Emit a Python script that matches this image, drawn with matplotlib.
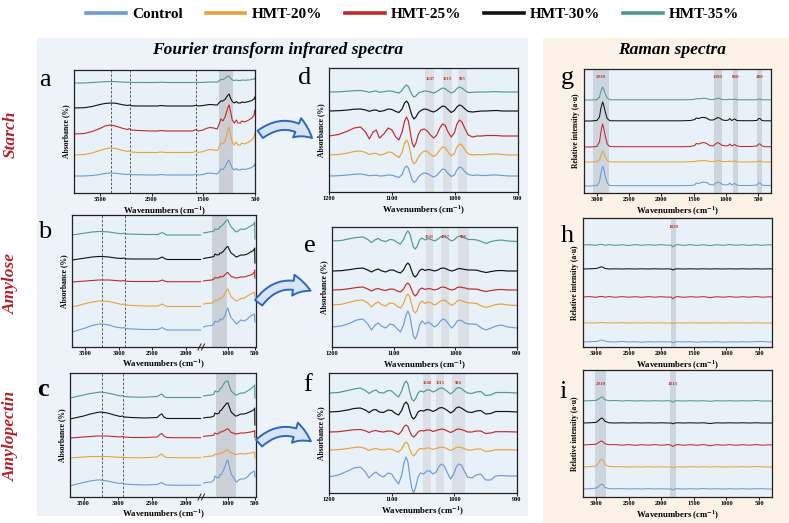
import matplotlib
matplotlib.use("Agg")
import matplotlib.pyplot as plt
from matplotlib.patches import Rectangle, FancyArrowPatch
from matplotlib.lines import Line2D

plt.rcParams['font.family'] = ['Liberation Serif', 'DejaVu Serif']
plt.rcParams['font.weight'] = 'bold'
plt.rcParams['mathtext.fontset'] = 'stix'
plt.rcParams['mathtext.default'] = 'bf'

W, H = 789, 523
SERIES = ["Control", "HMT-20%", "HMT-25%", "HMT-30%", "HMT-35%"]
COLORS = ["#6f9ad6", "#e9a33a", "#c22a2a", "#111111", "#4f9a8b"]

# ---------------- FTIR full range (panel a) ----------------
xa = [4000, 3800, 3650, 3500, 3400, 3300, 3200, 3050, 2960, 2930,
      2890, 2750, 2500, 2370, 2340, 2200, 1900, 1700, 1645, 1600,
      1500, 1450, 1370, 1300, 1230, 1200, 1160, 1120, 1080, 1050,
      1020, 1000, 975, 940, 900, 860, 830, 780, 760, 700,
      620, 560, 520, 505, 500]
a_control = [0, 0, 0.5, 1.5, 2.5, 3, 2.8, 1.8, 1.5, 2,
             1.3, 1.2, 1, 1, 1.5, 1, 1, 1, 1.8, 1,
             1.5, 2.5, 3, 2.5, 2, 4, 7, 6.5, 9, 12,
             15, 16, 12, 8, 6, 7.5, 6, 6, 7, 6.5,
             7.5, 8.5, 10, 12, 10]
a_hmt20 = [0, 0.5, 2, 4.5, 6, 7, 6.5, 4.5, 3.5, 4,
           3, 2.5, 2.5, 2.5, 3, 2.5, 2.5, 2.5, 3.8, 2.5,
           3.5, 4.5, 5.5, 5, 4.5, 7, 12, 11, 14, 19,
           26, 28, 21, 13, 10, 13, 10, 10, 12, 11,
           13, 15, 18, 22, 19]
a_hmt25 = [0, 0.5, 2.5, 5.5, 8, 9, 8, 5.5, 4.5, 5.5,
           4, 3.5, 3, 3, 3.5, 3, 3, 3, 4.5, 3,
           4, 5.5, 6.5, 6, 5, 9, 15, 13, 17, 22,
           27, 29, 23, 14, 11, 14, 11, 11, 13, 12,
           14, 16, 19, 24, 20]
a_hmt30 = [0, 0.3, 1.5, 3.5, 4.5, 5, 4.8, 3.2, 2.5, 3,
           2.2, 2, 2, 2, 2.5, 2, 2, 2, 2.6, 2,
           2.5, 3, 3.5, 3.2, 3, 5, 7, 7, 8.5, 11,
           13, 14, 10, 6.5, 5, 6.5, 5, 5, 6, 5.5,
           6.5, 7.5, 9, 11, 9]
a_hmt35 = [0, 0, 0.5, 1, 1.3, 1.5, 1.4, 0.8, 0.7, 1,
           0.6, 0.5, 0.5, 0.5, 0.8, 0.5, 0.5, 0.5, 0.8, 0.5,
           0.6, 0.8, 1, 1, 0.8, 2, 3.5, 3.5, 4.5, 6,
           7, 6.5, 5, 3, 2.5, 3, 2.5, 2.5, 3, 2.8,
           3, 3.5, 4, 5, 4]

# ---------------- FTIR broken axis (panels b, c) ----------------
x_hi = [3700, 3600, 3500, 3400, 3300, 3250, 3150, 3050, 2960, 2930,
        2900, 2800, 2600, 2420, 2370, 2350, 2320, 2280, 2150, 1950, 1780]
x_lo = [1450, 1400, 1300, 1260, 1240, 1200, 1160, 1150, 1120, 1080,
        1050, 1020, 1000, 980, 940, 900, 860, 840, 800, 760,
        700, 640, 580, 540, 510, 505, 500]

b_hi_control = [0, 2, 4, 6.5, 8, 8, 7, 5, 4, 4.5, 3.5, 3, 2.5, 2.5, 4, 4.5, 3, 2, 2, 2, 2]
b_lo_control = [5, 6, 6.5, 8, 11, 10, 11, 13, 12, 14, 17, 22, 24, 20, 14, 12, 9, 8, 10, 12,
                11, 13, 16, 17, 18, 15, 10]
b_hi_hmt20 = [0, 1.5, 3.5, 5, 6, 6, 5.5, 4, 2.5, 3, 2, 1.5, 1, 1, 2.5, 3, 1.5, 0.5, 0.5, 0.5, 0.5]
b_lo_hmt20 = [3, 3.5, 4, 5, 7, 6.5, 7.5, 9, 9, 11, 14, 17, 18, 15, 10, 8.5, 6.5, 6, 7, 8.5,
              9, 11, 13, 14, 15, 14, 10]
b_hi_hmt25 = [0, 0.5, 1, 1.5, 2, 2, 2, 1.5, 1, 1.5, 0.8, 0.5, 0.5, 0.5, 1.5, 2, 1, 0.3, 0.3, 0.3, 0.3]
b_lo_hmt25 = [1, 1.5, 2, 3, 4.5, 4, 4.5, 5.5, 5, 6, 7.5, 9, 9.5, 8, 5.5, 5, 4, 4, 4.5, 5,
              5, 6, 7, 8, 10, 12, 4]
b_hi_hmt30 = [0, 1, 2, 3, 3.5, 3.5, 3, 2, 1.5, 2, 1.2, 1, 1, 1, 2.5, 3, 1.5, 0.5, 0.5, 0.5, 0.5]
b_lo_hmt30 = [1.5, 2, 3, 3.5, 6, 5, 5.5, 7, 7, 9, 11, 13, 13.5, 11, 7, 5.5, 3.5, 3, 4, 5,
              5, 6, 8, 9, 11, 12, -3]
b_hi_hmt35 = [0, 1, 2, 3, 3.5, 3.5, 3, 2, 1.2, 1.8, 1, 0.8, 0.5, 0.5, 2, 2.5, 1, 0, 0, 0, 0]
b_lo_hmt35 = [2, 2.5, 3.5, 4, 6, 5.5, 6.5, 8, 9, 11, 13, 15, 15, 12, 8, 6, 3.5, 3, 4.5, 6,
              5.5, 7, 9, 10, 12, 13, -4]

c_hi_control = [0, 2, 3.5, 5, 6, 6, 5, 3.5, 2.5, 3, 2, 1.5, 1, 1.5, 3, 3.5, 2, 1, 0.8, 0.8, 0.8]
c_lo_control = [3, 3.5, 4, 6, 10, 8, 9, 11, 12, 16, 20, 25, 26, 21, 12, 9, 5, 4, 6, 7,
                7, 9, 13, 14, 15, 13, 9]
c_hi_hmt20 = [0, 0.5, 1, 1.5, 1.5, 1.5, 1.5, 1, 0.5, 1, 0.5, 0.3, 0.3, 1, 3.5, 4, 1.5, 0.5, 0.3, 0.3, 0.3]
c_lo_hmt20 = [1, 1.5, 2, 2.5, 4, 3.5, 4, 5, 5, 6, 7, 8, 8, 7, 5, 4.5, 3.5, 3.5, 4, 4.5,
              4, 4.5, 5, 5.5, 6, 5, 0]
c_hi_hmt25 = [0, 0.5, 1, 1.5, 2, 2, 2, 1.5, 1, 1.5, 1, 0.5, 0.5, 1, 4, 4.5, 2, 0.5, 0.3, 0.3, 0.3]
c_lo_hmt25 = [1.5, 2, 2.5, 3, 5, 4, 5, 6, 6, 7, 8, 9, 9, 8, 5.5, 5, 4, 4, 4.5, 5,
              5, 5.5, 6, 6.5, 7, 7.5, 0]
c_hi_hmt30 = [0, 1.5, 3, 5, 6.5, 7, 6, 4, 2.5, 3, 2, 1.5, 1, 1.5, 4.5, 5, 2, 0.5, 0.5, 0.5, 0.5]
c_lo_hmt30 = [1, 1.5, 2, 3, 6, 5, 6, 8, 9, 12, 14, 16, 16, 13, 7, 5, 3, 3, 4, 5,
              5, 6, 7.5, 8.5, 10, 11, -6]
c_hi_hmt35 = [0, 1.5, 3, 4.5, 5.5, 6, 5, 3.5, 2, 2.5, 1.5, 1, 0.8, 1.5, 3.5, 4, 1.5, 0.5, 0.5, 0.5, 0.5]
c_lo_hmt35 = [2, 2.5, 3, 4, 7, 6, 7, 9, 10, 14, 16, 17, 17, 13, 7, 5, 3, 3, 4, 5,
              5, 7, 9, 11, 12, 13, 0]

# ---------------- FTIR 1200-900 deconvoluted (panels d, e, f) ----------------
xd = [1200, 1185, 1170, 1160, 1150, 1142, 1136, 1130, 1125, 1120,
      1113, 1106, 1100, 1094, 1089, 1084, 1080, 1077, 1074, 1071,
      1068, 1065, 1062, 1058, 1054, 1049, 1044, 1039, 1034, 1029,
      1024, 1020, 1016, 1011, 1006, 1001, 997, 993, 989, 984,
      979, 972, 965, 958, 950, 942, 934, 925, 915, 900]

d_control = [0, 0.3, 1, 1.8, 2, 1.2, 0.3, 0.6, 0.8, 0,
             0.2, 1, 0.8, -0.5, -1.5, 1.5, 8, 10, 8, 2,
             -4, -6.5, -5, -1, 1.5, 3, 2.5, 0.5, -1, 0.5,
             4, 7, 6.5, 2.5, -0.5, 1, 6, 9, 8, 4,
             1.5, 0.5, 1, 0.5, 0.5, 1, 1, 0.5, 0, 0]
d_hmt20 = [0, 0.5, 2, 3.5, 4, 2.5, 0.5, 1.5, 1.8, 0,
           0.8, 3, 2.5, -0.5, -2.5, 2.5, 12, 15, 12, 3,
           -6, -9, -7, -2, 1.5, 4, 3.5, 0.5, -1.5, 0.5,
           5, 8, 7.5, 3, -1, 1.5, 8, 11, 10, 5,
           1, 0, 0.5, 0, 0.5, 1, 1, 0.5, 0, 0]
d_hmt25 = [0, 1.5, 5, 8, 9, 4, -3, 4, 6, -2,
           2, 8, 6, -1, -4, 4, 15, 19, 15, 4,
           -7, -11, -7, 2, 6, 7, 5, 1, -2, 1,
           8, 12, 11, 4, -1, 3, 12, 16, 14, 7,
           1, -1, 0, 0, 0.5, 0.5, 0.5, 0, 0, 0]
d_hmt30 = [0, 0.3, 1, 1.8, 2, 1, -0.3, 0.8, 1, -0.5,
           0.3, 2, 1.5, -0.5, -1.5, 2, 8, 10, 7.5, 1,
           -5, -8, -6, -1.5, 0.5, 2, 1.5, 0, -1, 0.5,
           3, 5, 4.5, 1.5, -1.5, 0.5, 4, 6, 5, 2,
           -0.5, -1, -0.5, 0, 0, 0.3, 0.5, 0, 0, 0]
d_hmt35 = [0, 0.2, 0.8, 1.3, 1.5, 0.7, -0.3, 0.7, 1, -0.3,
           0.3, 1, 0.8, -0.3, -1, 1.5, 5.5, 7, 5.5, 1,
           -3, -5, -4, -1, 0, 1, 0.8, 0, -1, 0.3,
           2.5, 4, 3.5, 1, -1, 0.5, 3.5, 5, 4, 1.5,
           -0.5, -0.3, 0, 0, 0, 0.3, 0.3, 0, 0, 0]

e_control = [0, 1, 4, 7, 8, 3, -3, 2, 4, 1,
             -1, 3, 2, -2, -5, 2, 12, 16, 12, 1,
             -9, -12, -8, 2, 6, 3, 5, 3, 0, 2,
             6, 8, 7, 3, -1, 2, 6, 7, 6, 4,
             3, 3, 2.5, -1, -3, -1, 1, 2, 0, -1]
e_hmt20 = [0, 0.7, 3, 4.5, 5, 2, -2, 1.5, 3, 0.5,
           -1, 2, 1.5, -1.5, -3, 1.5, 8.5, 11, 8.5, 1,
           -6, -8, -5.5, 1.5, 4, 1.5, 3, 2, 0, 1.5,
           4, 5, 4.5, 2, -0.5, 1.5, 4, 5, 4, 3,
           2, 2, 1.5, -1, -2.5, -1, 0.5, 1, 0, -0.5]
e_hmt25 = [0, 0.3, 1.5, 2.5, 3, 1, -1, 0.8, 1.5, 0.3,
           -0.5, 1, 0.8, -1, -2, 1, 5.5, 7, 5, 0.5,
           -4, -6, -4, 0.5, 2, 0.5, 1.5, 1, 0, 0.8,
           2.5, 3, 2.5, 1, 0, 0.8, 2.5, 3, 2.5, 2,
           1, 1, 0.8, -0.5, -1.5, -0.5, 0.3, 0.5, 0, 0]
e_hmt30 = [0, 0.3, 1.5, 2.5, 3, 1, -1, 1, 2, 0.3,
           -1, 1, 0.8, -1, -2, 1, 6, 8, 6, 0.5,
           -4.5, -6, -4, 0.5, 2, 0.5, 1.5, 1, 0, 0.8,
           2.5, 3, 2.5, 1, 0, 0.8, 2, 2.5, 2, 1.5,
           1, 1, 0.8, -0.5, -1.5, -0.5, 0.3, 0.5, 0, 0]
e_hmt35 = [0, 0.5, 2.5, 3.5, 4, 1.5, -1.5, 1.2, 2.5, 0.5,
           -0.5, 1.5, 1, -1.5, -3, 1.5, 7.5, 10, 7.5, 1,
           -6, -8, -5.5, 1, 3, 1, 2.5, 1.5, 0, 1.5,
           4, 5, 4.5, 2, 0, 1.5, 4, 5, 4, 3,
           1.5, 1.5, 1, -0.5, -2.5, -0.5, 0.5, 1, 0, -0.5]

f_control = [0, 2, 6, 9, 10, 5, -1, 3, 5, 2,
             0, 4, 3, -3, -7, 2, 15, 20, 15, 1,
             -11, -16, -11, 0, 4, 3, 6, 6, 3, 5,
             11, 13, 11, 4, -2, 3, 10, 13, 12, 6,
             0, -1, 2, 3, -3, -3, 1, 1.5, 1, 1]
f_hmt20 = [0, 0.3, 1.5, 2.5, 3, 1.5, -0.5, 1, 1.5, 0.5,
           0, 1, 0.8, -1, -2, 1, 6, 8, 6, 0.5,
           -4, -6, -4, 0, 1.5, 1, 2, 2, 0.5, 1.5,
           2.5, 3, 2.5, 1, -0.5, 1, 2.5, 3, 2.5, 1.5,
           0, 0, 1, 1, -1.5, -1, 0.3, 0.3, 0.3, 0]
f_hmt25 = [0, 0.3, 1.5, 2.3, 2.5, 1.2, -0.5, 1, 1.5, 0.5,
           0, 1, 0.8, -1, -2.5, 1, 5.5, 7, 5.5, 0.5,
           -3.5, -5, -3.5, 0, 1.5, 1, 2, 2, 0.5, 1.5,
           2.5, 3, 2.5, 1, -0.5, 1, 2.5, 3, 2.5, 1.5,
           0, 0, 1, 1, -1.5, -1, 0.3, 0.3, 0.3, 0]
f_hmt30 = [0, 0.5, 2, 3.5, 4, 2, -0.5, 2, 2.5, 0,
           -0.5, 2, 1.5, -1.5, -3, 1.5, 8, 10, 7.5, 0.5,
           -5, -7, -5, 0, 1.5, 1, 2.5, 2, 0.5, 2,
           4, 4.5, 3.5, 1.5, -1, 1, 4, 5, 4, 2,
           0, -0.5, 1, 1.5, -2, -1.5, 0.5, 0.5, 0.5, 0]
f_hmt35 = [0, 0.5, 2.5, 4, 5, 2.5, -0.5, 2, 3, 0.5,
           0, 2.5, 2, -1.5, -4, 2, 9.5, 12, 9, 0.5,
           -6, -8, -6, 0, 2, 1, 3, 3, 1, 2.5,
           4.5, 5, 4, 1.5, -1, 1.5, 4.5, 5.5, 4.5, 2,
           0, -0.5, 1, 1.5, -2.5, -2, 0.5, 0.5, 0.5, 0]

# ---------------- Raman (panels g, h, i) ----------------
xg = [3200, 3100, 3000, 2960, 2940, 2920, 2910, 2895, 2870, 2840,
      2800, 2700, 2500, 2300, 2100, 1900, 1700, 1550, 1480, 1460,
      1420, 1380, 1340, 1300, 1250, 1200, 1150, 1125, 1100, 1050,
      1000, 960, 940, 910, 880, 860, 830, 780, 700, 600,
      520, 490, 470, 440, 400, 300]
g_control = [0, 0, 0.5, 4, 12, 18, 20, 17, 10, 3,
             0.5, 0.3, 0.3, 0.3, 0.3, 0.3, 0.3, 0.5, 1, 3,
             2.5, 3.5, 4, 3.5, 1.5, 1, 3, 4, 3.5, 1.5,
             1, 1.5, 3, 1, 2, 2.5, 1, 0.5, 0.5, 0.5,
             1, 3, 3, 1, 0.5, 0.5]
g_hmt20 = [0, 0, 0.3, 2, 6, 10, 11, 9, 5, 1.5,
           0.2, 0, 0, 0, 0, 0, 0, 0.3, 0.5, 1,
           1, 1.3, 1.5, 1.3, 0.5, 0.5, 1, 1.5, 1.2, 0.5,
           0.3, 0.5, 1, 0.3, 0.7, 1, 0.3, 0, 0, 0,
           0.3, 1, 1, 0.3, 0, 0]
g_hmt25 = [0, 0, 0.5, 5, 14, 21, 23, 19, 11, 3,
           0.5, 0.3, 0.3, 0.3, 0.3, 0.3, 0.3, 0.5, 1.5, 3.5,
           3, 4, 4.5, 3.5, 1.5, 1, 3.5, 4.5, 3.5, 1.5,
           1, 1.5, 3, 1, 2, 2.5, 1, 0.5, 0.5, 0.5,
           1, 3, 3, 1, 0.3, 0.3]
g_hmt30 = [0, 0, 0.5, 4, 12, 17, 19, 16, 9, 2.5,
           0.3, 0.2, 0.2, 0.2, 0.2, 0.2, 0.2, 0.5, 1.5, 3,
           2.5, 3.5, 3.5, 3, 1, 1, 2.5, 3.5, 3, 1,
           0.5, 1, 2.5, 0.5, 1.5, 2, 0.5, 0.3, 0.3, 0.3,
           0.5, 2.5, 2.5, 0.5, 0.2, 0.2]
g_hmt35 = [0, 0, 0.3, 3, 8, 12, 13, 11, 6, 2,
           0.3, 0.2, 0.2, 0.2, 0.2, 0.2, 0.2, 0.3, 0.8, 1.5,
           1.2, 1.5, 1.8, 1.5, 0.5, 0.5, 1.3, 1.8, 1.5, 0.5,
           0.3, 0.5, 1, 0.3, 0.7, 1, 0.3, 0.2, 0.2, 0.2,
           0.3, 1, 1, 0.3, 0.2, 0.2]

xh = [3200, 3100, 3000, 2960, 2930, 2910, 2890, 2860, 2800, 2700,
      2600, 2500, 2400, 2300, 2200, 2100, 2000, 1900, 1850, 1820,
      1790, 1750, 1650, 1550, 1450, 1350, 1250, 1150, 1050, 950,
      850, 750, 650, 550, 450, 350, 300]
h_control = [0, 0.3, 0.5, 1, 1.8, 2, 1.5, 0.8, 0.2, 0,
             0.5, 0, 0.3, -0.2, 0.3, 0, 0.3, 0, 0.2, -0.8,
             0, 0.3, 0, 0.3, -0.2, 0.3, 0, 0.3, -0.2, 0.2,
             0, 0.3, 0, 0.3, 0.5, 0, 0]
h_hmt20 = [0, 0.2, 0, 0.3, 0.4, 0.5, 0.3, 0, 0.2, 0,
           0.3, 0, 0.2, 0, 0.3, 0, 0.2, 0, 0.1, -0.5,
           0, 0.2, 0, 0.2, 0, 0.2, 0, 0.2, 0, 0.2,
           0, 0.2, 0, 0.2, 0, 0, 0]
h_hmt25 = [0, 0.4, -0.3, 0.3, 0.5, 0.6, 0.3, -0.2, 0.4, -0.3,
           0.4, -0.2, 0.3, -0.3, 0.4, -0.2, 0.3, -0.2, 0, -1.8,
           -0.2, 0.4, -0.3, 0.3, -0.2, 0.4, -0.6, 0.3, -0.2, 0.4,
           -0.3, 0.3, -0.2, 0.4, -0.2, 0.2, 0]
h_hmt30 = [0, 0.2, 0.5, 1.2, 2, 2.2, 1.5, 0.5, 0, 0.2,
           0, 0.2, 0, 0.2, 0, 0.2, 0, 0.2, 0, -1,
           0, 0.2, 0, 0.2, 0, 0.2, 0, 0.2, 0, 0.2,
           0, 0.2, 0, 0.2, 0, 0.2, 0]
h_hmt35 = [0, 0.3, -0.3, 0.3, 0.5, 0.6, 0.3, -0.3, 0.4, -0.4,
           0.3, -0.5, 0.4, -0.3, 0.3, -0.2, 0.4, -0.3, 0, -2,
           -0.3, 0.4, -0.3, 0.3, -0.4, 0.3, -0.6, 0.3, -0.3, 0.4,
           -0.3, 0.3, -0.4, 0.3, -0.3, 0.3, 0]

i_control = [0, 0.3, 0.8, 2.5, 4.5, 5, 4, 1.5, 0.3, 0.2,
             0.4, 0, 0.3, 0, 0.3, 0, 0.2, 0, 0, -1,
             0, 0.3, 0, 0.3, 0, 0.5, 0, 0.3, 0, 0.3,
             0, 0.3, 0, 0.3, 0.3, 0, 0]
i_hmt20 = [0, 0.3, 1, 4, 7.5, 8, 6.5, 2.5, 0.5, 0.2,
           0.3, 0, 0.2, 0, 0.3, 0, 0.2, 0, 0, -0.8,
           0, 0.2, 0, 0.3, 0, 0.3, 0, 0.3, 0, 0.2,
           0, 0.3, 0, 0.5, 0.2, 0, 0]
i_hmt25 = [0, 0.4, 0.8, 2.5, 3.8, 4, 3, 1.2, 0.3, 0.4,
           -0.2, 0.4, -0.3, 0.3, -0.2, 0.4, -0.2, 0.3, 0, -1.5,
           -0.2, 0.4, -0.2, 0.3, -0.3, 0.4, -0.7, 0.3, -0.2, 0.4,
           -0.3, 0.3, -0.2, 0.4, -0.2, 0.2, 0]
i_hmt30 = [0, 0.2, 0.6, 2.5, 4.5, 5, 4, 1.5, 0.2, 0,
           0.2, 0, 0.2, 0, 0.2, 0, 0.2, 0, 0, -0.8,
           0, 0.2, 0, 0.2, 0, 0.2, -0.5, 0.2, 0, 0.2,
           0, 0.2, 0, 0.2, 0, 0, 0]
i_hmt35 = [0, 0.3, 0.6, 2, 3.5, 4, 3.2, 1.2, 0.3, 0.5,
           0, 0.4, 0, 0.3, 0, 0.3, 0, 0.3, 0, -1.2,
           0, 0.3, 0, 0.3, 0, 0.3, -0.3, 0.3, 0, 0.3,
           0, 0.3, 0, 0.5, 0, 0, 0]

# marked bands and their labels
d_bands = [(1047, 1033), (1019, 1005), (995, 981)]
d_band_labels = ["1047", "1019", "995"]
e_bands = [(1048, 1036), (1023, 1011), (996, 978)]
e_band_labels = ["1041", "1017", "998"]
f_bands = [(1050, 1037), (1029, 1016), (1004, 983)]
f_band_labels = ["1040", "1015", "984"]
g_bands = [(3060, 2810), (1185, 1060), (890, 812), (518, 440)]
g_band_labels = ["2910", "1390", "860", "480"]
h_bands = [(1850, 1775)]
h_band_labels = ["1820"]
i_bands = [(3020, 2845), (1866, 1774)]
i_band_labels = ["2910", "1813"]

# ---------------------------------------------------------------
fig = plt.figure(figsize=(W / 100, H / 100), dpi=100)

FTIR_BG = "#edf3f9"
RAMAN_BG = "#fcf2e7"
AX_BG = "#e8f0f8"


def frect(x0, y0, x1, y1):
    return [x0 / W, 1 - y1 / H, (x1 - x0) / W, (y1 - y0) / H]


def fpt(x, y):
    return (x / W, 1 - y / H)


for (x0, y0, x1, y1), c in [((37, 38, 528, 516), FTIR_BG), ((543, 38, 789, 523), RAMAN_BG)]:
    fig.add_artist(Rectangle((x0 / W, 1 - y1 / H), (x1 - x0) / W, (y1 - y0) / H,
                             transform=fig.transFigure, facecolor=c, edgecolor="none", zorder=-10))


def style_ax(ax, ticks, spines_off=()):
    ax.set_facecolor(AX_BG)
    ax.set_yticks([])
    ax.set_xticks(ticks)
    ax.tick_params(axis="x", labelsize=4.6, pad=1.2, length=2, width=0.6, direction="out")
    for lab in ax.get_xticklabels():
        lab.set_fontweight("bold")
    for s in ax.spines.values():
        s.set_linewidth(0.9)
        s.set_color("#222222")
    for s in spines_off:
        ax.spines[s].set_visible(False)


def draw_stack(ax, x, curves, offsets, lw=0.8):
    for ys, off, col in zip(curves, offsets, COLORS):
        ax.plot(x, [off + v for v in ys], color=col, lw=lw, solid_joinstyle="round")


def shade(ax, bands, color, alpha, labels=None, ylab=0.92, fs=3.3):
    for k, (hi, lo) in enumerate(bands):
        ax.axvspan(lo, hi, color=color, alpha=alpha, lw=0, zorder=0.5)
        if labels:
            ax.text((hi + lo) / 2, ylab, labels[k], transform=ax.get_xaxis_transform(),
                    ha="center", va="center", fontsize=fs, color="#c0392b", fontweight="bold")


XLABEL = r"Wavenumbers (cm$^{-1}$)"

# ---- panel a ----
ax = fig.add_axes(frect(74, 70, 255, 193))
style_ax(ax, [3500, 2500, 1500, 500])
ax.set_xlim(4000, 500)
ax.set_ylim(0, 123)
shade(ax, [(1200, 930)], "#bfc4ca", 0.75)
for wn in [3280, 2920, 1650]:
    ax.axvline(wn, color="#444444", lw=0.6, ls=(0, (3, 2)), zorder=0.6)
draw_stack(ax, xa, [a_control, a_hmt20, a_hmt25, a_hmt30, a_hmt35], [17, 38, 59, 85, 110])
ax.set_xlabel(XLABEL, fontsize=6.3, labelpad=1.5, fontweight="bold")
ax.set_ylabel("Absorbance (%)", fontsize=5.5, labelpad=3, fontweight="bold")


# ---- panels b, c (broken axis) ----
def broken_panel(top, bottom, left, hi_curves, lo_curves, offsets, band, dashes):
    hgt = bottom - top
    axl = fig.add_axes(frect(left, top, 202, bottom))
    axr = fig.add_axes(frect(202, top, 256, bottom))
    style_ax(axl, [3500, 3000, 2500, 2000], spines_off=("right",))
    style_ax(axr, [1000, 500], spines_off=("left",))
    axl.set_xlim(3700, 1760)
    axr.set_xlim(1480, 480)
    for a_ in (axl, axr):
        a_.set_ylim(0, hgt)
    shade(axr, [band], "#bfc4ca", 0.7)
    for wn in dashes:
        axl.axvline(wn, color="#444444", lw=0.6, ls=(0, (3, 2)), zorder=0.6)
    draw_stack(axl, x_hi, hi_curves, offsets)
    draw_stack(axr, x_lo, lo_curves, offsets)
    axl.set_ylabel("Absorbance (%)", fontsize=5.5, labelpad=3, fontweight="bold")
    # break marks on the bottom axis
    for dx in (-2.5, 1.0):
        fig.add_artist(Line2D([(202 + dx - 1.5) / W, (202 + dx + 1.5) / W],
                              [1 - (bottom + 3) / H, 1 - (bottom - 3) / H],
                              transform=fig.transFigure, color="#222222", lw=0.7))
    fig.text((72 + 256) / 2 / W, 1 - (bottom + 17) / H, XLABEL, ha="center", va="center",
             fontsize=6.3, fontweight="bold")


broken_panel(215, 347, 72,
             [b_hi_control, b_hi_hmt20, b_hi_hmt25, b_hi_hmt30, b_hi_hmt35],
             [b_lo_control, b_lo_hmt20, b_lo_hmt25, b_lo_hmt30, b_lo_hmt35],
             [15, 40, 65, 87, 112], (1295, 1017), [3252, 2909])
broken_panel(373, 497, 70,
             [c_hi_control, c_hi_hmt20, c_hi_hmt25, c_hi_hmt30, c_hi_hmt35],
             [c_lo_control, c_lo_hmt20, c_lo_hmt25, c_lo_hmt30, c_lo_hmt35],
             [11, 39, 59, 78, 99], (1220, 850), [3237, 2920])


# ---- panels d, e, f ----
def deriv_panel(box, curves, offsets, bands, labels, ylab):
    x0, y0, x1, y1 = box
    ax = fig.add_axes(frect(x0, y0, x1, y1))
    style_ax(ax, [1200, 1100, 1000, 900])
    ax.set_xlim(1200, 900)
    ax.set_ylim(0, y1 - y0)
    shade(ax, bands, "#c9cdd2", 0.45, labels, ylab)
    draw_stack(ax, xd, curves, offsets, lw=0.85)
    ax.set_xlabel(XLABEL, fontsize=6.3, labelpad=1.5, fontweight="bold")
    ax.set_ylabel("Absorbance (%)", fontsize=5.5, labelpad=3, fontweight="bold")


deriv_panel((329, 68, 518, 192), [d_control, d_hmt20, d_hmt25, d_hmt30, d_hmt35],
            [16, 37, 56, 81, 100], d_bands, d_band_labels, 0.91)
deriv_panel((332, 227, 517, 347), [e_control, e_hmt20, e_hmt25, e_hmt30, e_hmt35],
            [20, 42, 57, 76, 106], e_bands, e_band_labels, 0.92)
deriv_panel((329, 373, 517, 493), [f_control, f_hmt20, f_hmt25, f_hmt30, f_hmt35],
            [16, 43, 61, 81, 100], f_bands, f_band_labels, 0.92)


# ---- panels g, h, i ----
def raman_panel(box, x, curves, offsets, bands, labels, ylab):
    x0, y0, x1, y1 = box
    ax = fig.add_axes(frect(x0, y0, x1, y1))
    style_ax(ax, [3000, 2500, 2000, 1500, 1000, 500])
    ax.set_xlim(3200, 300)
    ax.set_ylim(0, y1 - y0)
    shade(ax, bands, "#b4bcc6", 0.5, labels, ylab, fs=3.6)
    draw_stack(ax, x, curves, offsets, lw=0.75)
    ax.set_xlabel(XLABEL, fontsize=6.3, labelpad=1.5, fontweight="bold")
    ax.set_ylabel("Relative intensity (a\u00b7u)", fontsize=5.5, labelpad=3, fontweight="bold")


raman_panel((584, 69, 771, 193), xg, [g_control, g_hmt20, g_hmt25, g_hmt30, g_hmt35],
            [7, 31, 46, 72, 93], g_bands, g_band_labels, 0.935)
raman_panel((583, 218, 772, 347), xh, [h_control, h_hmt20, h_hmt25, h_hmt30, h_hmt35],
            [5, 24, 50, 78, 102], h_bands, h_band_labels, 0.93)
raman_panel((583, 370, 772, 497), xh, [i_control, i_hmt20, i_hmt25, i_hmt30, i_hmt35],
            [8, 30, 52, 74, 96], i_bands, i_band_labels, 0.89)

# ---- titles, letters, row labels ----
fig.text(*fpt(278, 50), "Fourier transform infrared spectra", ha="center", va="center",
         fontsize=12.5, fontweight="bold", fontstyle="italic")
fig.text(*fpt(672, 50), "Raman spectra", ha="center", va="center",
         fontsize=12.5, fontweight="bold", fontstyle="italic")

for letter, (lx, ly), wt in [("a", (45, 80), "normal"), ("d", (305, 78), "normal"),
                             ("g", (567, 78), "normal"), ("b", (45, 232), "normal"),
                             ("e", (310, 246), "normal"), ("h", (567, 236), "normal"),
                             ("c", (43, 389), "bold"), ("f", (308, 385), "normal"),
                             ("i", (563, 392), "normal")]:
    fig.text(*fpt(lx, ly), letter, ha="center", va="center", fontsize=19, fontweight=wt)

for name, ry in [("Starch", 134), ("Amylose", 284), ("Amylopectin", 436)]:
    fig.text(*fpt(11, ry), name, rotation=90, ha="center", va="center", fontsize=12.5,
             fontweight="bold", fontstyle="italic", color="#b3222b")

# ---- arrows from full spectra to zoomed spectra ----
for (ax0, ay0), (bx0, by0) in [((258, 136), (314, 140)), ((257, 305), (313, 292)),
                               ((257, 445), (313, 443))]:
    arr = FancyArrowPatch(fpt(ax0, ay0), fpt(bx0, by0), transform=fig.transFigure,
                          connectionstyle="arc3,rad=-0.45",
                          arrowstyle="simple,head_width=15,head_length=13,tail_width=6.5",
                          facecolor="#d7e5f6", edgecolor="#2d67c0", lw=1.4, zorder=5)
    fig.add_artist(arr)

# ---- legend ----
handles = [Line2D([], [], color=c, lw=2.6) for c in COLORS]
fig.legend(handles, SERIES, loc="upper center", bbox_to_anchor=(0.523, 1.012), ncol=5,
           frameon=False, prop={"family": "Liberation Serif", "weight": "bold", "size": 11},
           handlelength=2.6, handletextpad=0.4, columnspacing=1.5)

fig.savefig("out.png", dpi=100)
